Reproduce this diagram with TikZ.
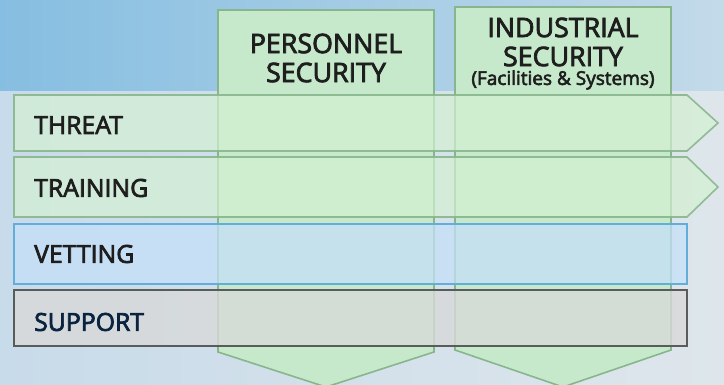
\documentclass[tikz,border=0pt]{standalone}
\usepackage{fontspec}
\setmainfont{Open Sans}
\newfontfamily\labfont[FakeBold=3]{Open Sans}
\definecolor{bgA}{HTML}{86BEE1}
\definecolor{bgB}{HTML}{C3DAE9}
\definecolor{bgC}{HTML}{C8DBEA}
\definecolor{bgD}{HTML}{DEE6EB}
\definecolor{colfill}{HTML}{C6E9CB}
\definecolor{colline}{HTML}{88B68C}
\definecolor{grfill}{HTML}{D4F0D2}
\definecolor{blfill}{HTML}{C5E0F8}
\definecolor{blline}{HTML}{62AEDA}
\definecolor{gyfill}{HTML}{D8D9D9}
\definecolor{gyline}{HTML}{5A5C5C}
\definecolor{txt}{HTML}{1E1E1E}
\definecolor{navy}{HTML}{0A2440}
\tikzset{
  colshape/.style={draw=colline, line width=1.6pt, fill=colfill},
  rowgreen/.style={draw=colline, line width=1.6pt, fill=grfill, fill opacity=0.7, draw opacity=0.9},
  rowblue/.style={draw=blline, line width=1.6pt, fill=blfill, fill opacity=0.75},
  rowgray/.style={draw=gyline, line width=1.6pt, fill=gyfill, fill opacity=0.8},
  rowlabel/.style={anchor=west, inner sep=0pt, text=txt, font=\labfont\fontsize{24.8}{26}\selectfont},
  collabel/.style={align=center, inner sep=0pt, text=txt, font=\labfont\fontsize{26.8}{29}\selectfont},
}
\begin{document}
\begin{tikzpicture}[x=1pt,y=-1pt]
\useasboundingbox (0,0) rectangle (724,385);
\shade[left color=bgA, right color=bgB] (0,0) rectangle (724,92);
\shade[left color=bgC, right color=bgD] (0,92) rectangle (724,385);
% columns
\draw[colshape] (218,10) -- (434,10) -- (434,352) -- (326,387) -- (218,352) -- cycle;
\draw[colshape] (455,7) -- (671,7) -- (671,350) -- (563,387) -- (455,350) -- cycle;
\node[collabel] (pers) at (326,58) {PERSONNEL\\SECURITY};
\node[collabel] (ind) at (563,42) {INDUSTRIAL\\SECURITY};
\node[inner sep=0pt, text=txt, font=\labfont\fontsize{19}{20}\selectfont] (fac) at (563,80) {(Facilities \& Systems)};
% rows
\draw[rowgreen] (14,95) -- (687,95) -- (718,123) -- (687,151) -- (14,151) -- cycle;
\draw[rowgreen] (14,157) -- (687,157) -- (718,187) -- (687,217) -- (14,217) -- cycle;
\draw[rowblue] (14,224) rectangle (687,284);
\draw[rowgray] (14,290) rectangle (687,346);
\node[rowlabel] (threat) at (34,125) {THREAT};
\node[rowlabel] (training) at (34,188) {TRAINING};
\node[rowlabel] (vetting) at (34,254) {VETTING};
\node[rowlabel, text=navy] (support) at (34,322) {SUPPORT};
\end{tikzpicture}
\end{document}
